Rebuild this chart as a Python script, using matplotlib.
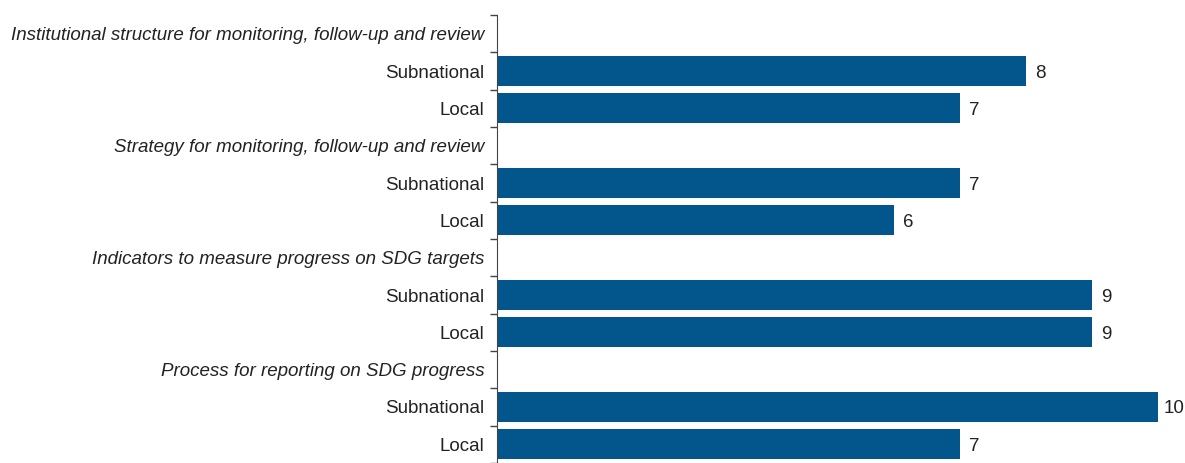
import matplotlib.pyplot as plt
import numpy as np

plt.rcParams['font.family'] = ['Liberation Sans', 'DejaVu Sans']

headers = ['Institutional structure for monitoring, follow-up and review',
           'Strategy for monitoring, follow-up and review',
           'Indicators to measure progress on SDG targets',
           'Process for reporting on SDG progress']
levels = ['Subnational', 'Local']
subnational = [8, 7, 9, 10]
local = [7, 6, 9, 7]

# build rows: header, subnational, local for each group
labels, values, italic = [], [], []
for h, s, l in zip(headers, subnational, local):
    labels += [h, levels[0], levels[1]]
    values += [None, s, l]
    italic += [True, False, False]

fig = plt.figure(figsize=(11.85, 4.63), dpi=100)
ax = fig.add_axes([497 / 1185, 0, 1 - 497 / 1185, 1 - 15 / 463])

xmax = 10.41
y = np.arange(len(labels))
color = '#02568B'
for yi, v in zip(y, values):
    if v is None:
        continue
    ax.barh(yi, v, height=0.8, color=color)
    # keep the label inside the figure for the longest bar
    ax.text(min(v + 0.14, xmax - 0.32), yi, str(v), va='center_baseline', ha='left',
            fontsize=13.5, color='#222222')

ax.set_xlim(0, xmax)
ax.set_ylim(-0.5 + 448 / 37.67, -0.5)

ax.set_yticks(y)
ax.set_yticklabels(labels, fontsize=13.5, color='#222222')
for t, it in zip(ax.get_yticklabels(), italic):
    if it:
        t.set_fontstyle('italic')
ax.tick_params(axis='y', which='major', length=0, pad=9)
ax.set_yticks(np.arange(-0.5, len(labels), 1.0), minor=True)
ax.tick_params(axis='y', which='minor', length=5, color='#444444', width=1)

ax.set_xticks([])
for s in ['top', 'right', 'bottom']:
    ax.spines[s].set_visible(False)
ax.spines['left'].set_color('#444444')

fig.savefig('out.png', dpi=100)
